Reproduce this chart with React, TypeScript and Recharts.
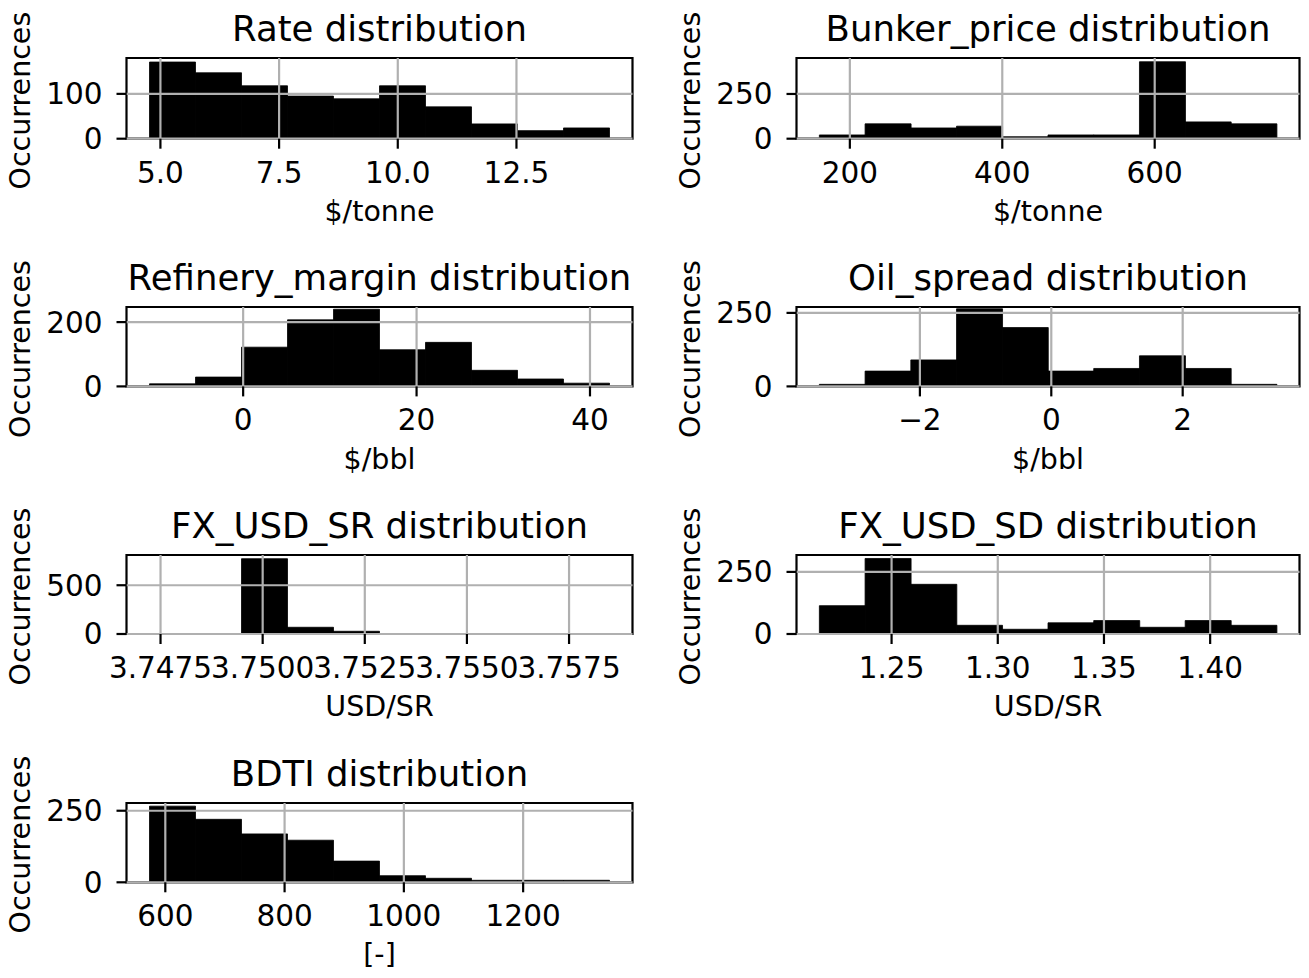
import React from "react";
import { BarChart, Bar, XAxis, YAxis, ReferenceLine, ReferenceArea } from "recharts";

// ---- data (10 bins per histogram) ----
const rateCounts = [171, 147, 118, 95, 89, 118, 71, 33, 18, 24];
const rateRange = [4.77, 14.46];
const rateXTicks = [5.0, 7.5, 10.0, 12.5];
const rateYTicks = [0, 100];

const bunkerCounts = [21, 83, 60, 70, 11, 21, 21, 430, 94, 83];
const bunkerRange = [160, 760];
const bunkerXTicks = [200, 400, 600];
const bunkerYTicks = [0, 250];

const refineryCounts = [8, 29, 122, 207, 240, 114, 137, 50, 23, 10];
const refineryRange = [-10.8, 42.25];
const refineryXTicks = [0, 20, 40];
const refineryYTicks = [0, 200];

const oilCounts = [7, 52, 90, 264, 200, 52, 61, 104, 61, 7];
const oilRange = [-3.53, 3.43];
const oilXTicks = [-2, 0, 2];
const oilYTicks = [0, 250];

const fxSrCounts = [1, 0, 772, 69, 28, 2, 1, 0, 0, 1];
const fxSrRange = [3.74723, 3.75849];
const fxSrXTicks = [3.7475, 3.75, 3.7525, 3.755, 3.7575];
const fxSrYTicks = [0, 500];

const fxSdCounts = [114, 304, 200, 35, 19, 45, 54, 27, 54, 35];
const fxSdRange = [1.216, 1.4313];
const fxSdXTicks = [1.25, 1.3, 1.35, 1.4];
const fxSdYTicks = [0, 250];

const bdtiCounts = [266, 220, 169, 147, 74, 23, 14, 7, 7, 7];
const bdtiRange = [573.5, 1344.8];
const bdtiXTicks = [600, 800, 1000, 1200];
const bdtiYTicks = [0, 250];

const titles = [
  "Rate distribution",
  "Bunker_price distribution",
  "Refinery_margin distribution",
  "Oil_spread distribution",
  "FX_USD_SR distribution",
  "FX_USD_SD distribution",
  "BDTI distribution",
];
const xLabels = ["$/tonne", "$/tonne", "$/bbl", "$/bbl", "USD/SR", "USD/SR", "[-]"];
const yMaxes = [180, 451, 247, 270, 810, 318, 277];

const fmt1 = (v: number) => v.toFixed(1);
const fmt0 = (v: number) => (v < 0 ? "\u2212" + Math.abs(v).toFixed(0) : v.toFixed(0));
const fmt4 = (v: number) => v.toFixed(4);
const fmt2 = (v: number) => v.toFixed(2);

const panels = [
  { counts: rateCounts, range: rateRange, xt: rateXTicks, yt: rateYTicks, f: fmt1 },
  { counts: bunkerCounts, range: bunkerRange, xt: bunkerXTicks, yt: bunkerYTicks, f: fmt0 },
  { counts: refineryCounts, range: refineryRange, xt: refineryXTicks, yt: refineryYTicks, f: fmt0 },
  { counts: oilCounts, range: oilRange, xt: oilXTicks, yt: oilYTicks, f: fmt0 },
  { counts: fxSrCounts, range: fxSrRange, xt: fxSrXTicks, yt: fxSrYTicks, f: fmt4 },
  { counts: fxSdCounts, range: fxSdRange, xt: fxSdXTicks, yt: fxSdYTicks, f: fmt2 },
  { counts: bdtiCounts, range: bdtiRange, xt: bdtiXTicks, yt: bdtiYTicks, f: fmt0 },
];

// ---- layout ----
const cols = [
  { left: 0, width: 650, plotL: 126.5, plotR: 632.5 },
  { left: 650, width: 659, plotL: 796.5, plotR: 1299.5 },
];
const rows = [
  { T: 58.3, B: 139 },
  { T: 307.3, B: 386.7 },
  { T: 555, B: 634 },
  { T: 803, B: 882.3 },
];
const FONT = "DejaVu Sans";
const TICK_FS = 29.5;
const LABEL_FS = 28.5;
const TITLE_FS = 35.5;
const LW = 2.2;
const GRID = "#b0b0b0";
const Y_AXIS_W = 80;
const X_AXIS_H = 60;
const CH = 200;
const TOP_PAD = 20;

function Panel({ idx }: { idx: number }) {
  const p = panels[idx];
  const col = cols[idx % 2];
  const row = rows[Math.floor(idx / 2)];
  const [lo, hi] = p.range;
  const n = p.counts.length;
  const w = (hi - lo) / n;
  const data = p.counts.map((c, i) => ({ x: lo + (i + 0.5) * w, v: c }));
  const pad = (hi - lo) * 0.05;
  const xDom: [number, number] = [lo - pad, hi + pad];
  const yMax = yMaxes[idx];
  const plotH = row.B - row.T;
  const margin = {
    top: TOP_PAD,
    bottom: CH - TOP_PAD - plotH - X_AXIS_H,
    left: col.plotL - col.left - Y_AXIS_W,
    right: col.left + col.width - col.plotR,
  };
  const tickStyle = { fill: "#000", fontSize: TICK_FS, fontFamily: FONT };
  return (
    <div style={{ position: "absolute", left: col.left, top: row.T - TOP_PAD }}>
      <BarChart width={col.width} height={CH} data={data} margin={margin} barCategoryGap={0} barGap={0}>
        <XAxis
          dataKey="x"
          type="number"
          domain={xDom}
          ticks={p.xt}
          interval={0}
          allowDataOverflow
          tickFormatter={p.f}
          axisLine={false}
          tickLine={{ stroke: "#000", strokeWidth: LW }}
          tickSize={10}
          tickMargin={13}
          height={X_AXIS_H}
          tick={tickStyle}
        />
        <YAxis
          type="number"
          domain={[0, yMax]}
          ticks={p.yt}
          interval={0}
          allowDataOverflow
          axisLine={false}
          tickLine={{ stroke: "#000", strokeWidth: LW }}
          tickSize={10}
          tickMargin={14}
          width={Y_AXIS_W}
          tick={tickStyle}
        />
        <Bar dataKey="v" fill="#000" stroke="#000" strokeWidth={0.8} isAnimationActive={false} />
        {p.xt.map((t) => (
          <ReferenceLine key={"gx" + t} x={t} stroke={GRID} strokeWidth={LW} />
        ))}
        {p.yt.map((t) => (
          <ReferenceLine key={"gy" + t} y={t} stroke={GRID} strokeWidth={LW} />
        ))}
        <ReferenceArea
          x1={xDom[0]}
          x2={xDom[1]}
          y1={0}
          y2={yMax}
          fill="none"
          fillOpacity={0}
          stroke="#000"
          strokeWidth={LW}
        />
      </BarChart>
    </div>
  );
}

export default function App() {
  return (
    <div
      style={{
        position: "absolute",
        left: 0,
        top: 0,
        width: 1309,
        height: 978,
        background: "#fff",
        overflow: "hidden",
      }}
    >
      {panels.map((_, i) => (
        <Panel key={i} idx={i} />
      ))}
      <svg
        width={1309}
        height={978}
        style={{ position: "absolute", left: 0, top: 0, pointerEvents: "none" }}
        fontFamily={FONT}
      >
        {panels.map((_, i) => {
          const col = cols[i % 2];
          const row = rows[Math.floor(i / 2)];
          const cx = (col.plotL + col.plotR) / 2;
          const cy = (row.T + row.B) / 2;
          return (
            <g key={i}>
              <text x={cx} y={row.T - 17} textAnchor="middle" fontSize={TITLE_FS} fill="#000">
                {titles[i]}
              </text>
              <text x={cx} y={row.B + 82} textAnchor="middle" fontSize={LABEL_FS} fill="#000">
                {xLabels[i]}
              </text>
              <text
                transform={`translate(${col.plotL - 96.5}, ${cy + 2}) rotate(-90)`}
                textAnchor="middle"
                fontSize={LABEL_FS}
                fill="#000"
              >
                Occurrences
              </text>
            </g>
          );
        })}
      </svg>
    </div>
  );
}
